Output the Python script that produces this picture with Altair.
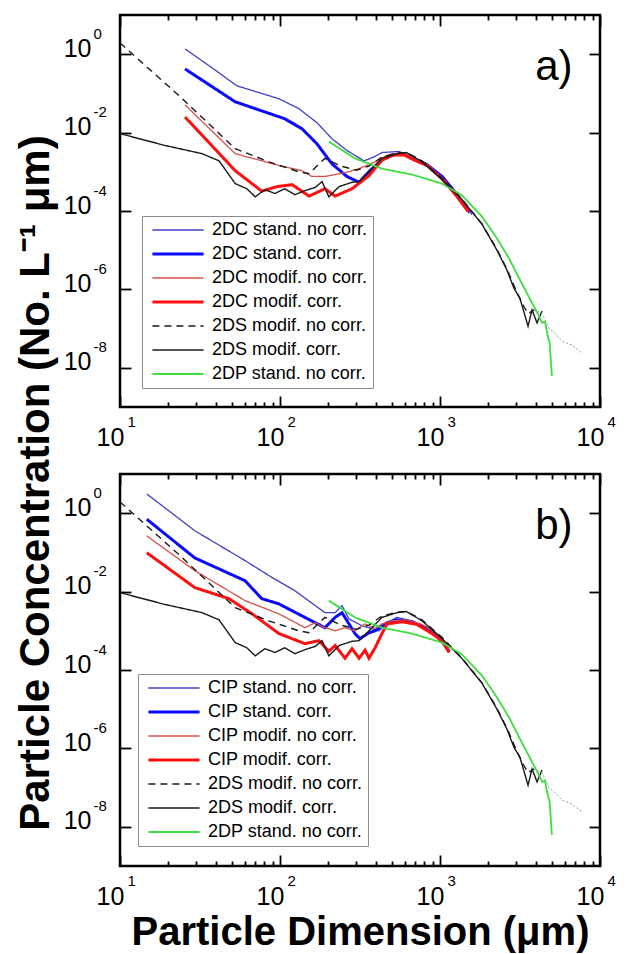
import altair as alt
import pandas as pd

# ---------------- data ----------------
# Panel a) 2DC probe
D_2DC_STD_NC = [25.5, 37.6, 53.8, 98.5, 131, 170, 211, 262, 335, 387, 434, 554, 668, 830, 1030, 1280, 1585]
N_2DC_STD_NC = [1.36, 0.45, 0.156, 0.073, 0.041, 0.018, 7.0e-3, 3.5e-3, 1.9e-3, 2.4e-3, 3.1e-3, 3.3e-3, 2.4e-3, 1.6e-3, 8.0e-4, 2.8e-4, 8.1e-5]
D_2DC_STD_C = [25.5, 52.5, 107, 137, 170, 211, 262, 312, 365, 434, 501, 579, 688, 830, 1030, 1280, 1540]
N_2DC_STD_C = [0.42, 0.061, 0.0226, 0.0126, 5.2e-3, 1.6e-3, 7.6e-4, 5.4e-4, 1.07e-3, 2.0e-3, 2.7e-3, 2.9e-3, 2.2e-3, 1.5e-3, 7.6e-4, 2.6e-4, 9.1e-5]
D_2DC_MOD_NC = [25.5, 52.5, 98.5, 137, 158, 191, 255, 312, 393, 466, 579, 688, 830, 1030, 1280, 1540]
N_2DC_MOD_NC = [0.051, 2.9e-3, 1.45e-3, 1.07e-3, 7.6e-4, 7.6e-4, 9.5e-4, 1.2e-3, 1.8e-3, 2.6e-3, 3.1e-3, 2.3e-3, 1.5e-3, 7.1e-4, 2.5e-4, 9.1e-5]
D_2DC_MOD_C = [25.5, 52.5, 77, 96, 119, 152, 191, 221, 282, 360, 434, 516, 596, 688, 830, 1030, 1280, 1500]
N_2DC_MOD_C = [0.025, 1.07e-3, 3.2e-4, 4.2e-4, 4.7e-4, 2.4e-4, 3.7e-4, 2.4e-4, 3.7e-4, 8.0e-4, 2.0e-3, 2.7e-3, 2.7e-3, 2.0e-3, 1.45e-3, 6.7e-4, 2.3e-4, 9.7e-5]

# Panel b) CIP probe
D_CIP_STD_NC = [14.7, 29.4, 60.4, 89, 124, 191, 221, 244, 270, 325, 416, 466, 538, 668, 830, 1030, 1140]
N_CIP_STD_NC = [3.1, 0.355, 0.062, 0.023, 0.0105, 2.9e-3, 2.9e-3, 4.4e-3, 2.0e-3, 1.35e-3, 1.0e-3, 1.6e-3, 2.2e-3, 1.8e-3, 1.2e-3, 5.6e-4, 3.2e-4]
D_CIP_STD_C = [14.7, 29.4, 60.4, 77, 98, 143, 191, 221, 244, 270, 294, 316, 360, 393, 466, 538, 668, 830, 1030, 1140]
N_CIP_STD_C = [0.70, 0.072, 0.019, 6.6e-3, 4.9e-3, 2.2e-3, 1.2e-3, 2.2e-3, 2.9e-3, 1.5e-3, 8.5e-4, 6.3e-4, 8.9e-4, 1.0e-3, 1.6e-3, 1.9e-3, 1.7e-3, 1.15e-3, 5.4e-4, 3.0e-4]
D_CIP_MOD_NC = [14.7, 29.4, 60.4, 98.5, 143, 166, 191, 221, 255, 294, 340, 393, 434, 501, 617, 772, 957, 1140]
N_CIP_MOD_NC = [0.264, 0.034, 5.9e-3, 2.7e-3, 1.2e-3, 1.6e-3, 1.2e-3, 1.0e-3, 1.2e-3, 1.0e-3, 1.5e-3, 1.15e-3, 1.5e-3, 1.8e-3, 1.9e-3, 1.45e-3, 8.5e-4, 3.5e-4]
D_CIP_MOD_C = [14.7, 29.4, 48, 67, 98.5, 143, 175, 202, 221, 255, 282, 312, 340, 360, 393, 434, 466, 579, 718, 891, 1030, 1140]
N_CIP_MOD_C = [0.098, 0.0126, 6.6e-3, 2.7e-3, 8.5e-4, 4.7e-4, 5.6e-4, 3.0e-4, 4.2e-4, 2.0e-4, 3.5e-4, 2.0e-4, 3.2e-4, 2.0e-4, 3.7e-4, 8.5e-4, 1.5e-3, 1.7e-3, 1.45e-3, 8.5e-4, 5.6e-4, 2.8e-4]

# Shared by both panels: 2DS and 2DP probes
D_2DS_NC = [10, 23.4, 52.5, 85, 131, 152, 175, 191, 240, 300, 360, 434, 538, 617, 772, 1030, 1372, 1830, 2270, 2620, 3020, 3350, 3550, 3870]
N_2DS_NC = [1.94, 0.087, 3.9e-3, 1.8e-3, 1.0e-3, 8.9e-4, 1.6e-3, 2.2e-3, 1.4e-3, 1.1e-3, 1.4e-3, 2.4e-3, 3.0e-3, 3.1e-3, 1.9e-3, 6.8e-4, 2.0e-4, 4.7e-5, 1.05e-5, 3.3e-6, 8.5e-7, 3.6e-7, 2.4e-7, 3.0e-7]
D_2DS_C = [10, 19.1, 32.6, 41.6, 52.5, 62, 70, 80.5, 93, 107, 124, 143, 166, 183, 202, 234, 282, 312, 360, 434, 538, 617, 772, 1030, 1372, 1830, 2270, 2620, 2900, 3160, 3350, 3550, 3760, 4040, 4340]
N_2DS_C = [9.4e-3, 4.7e-3, 2.9e-3, 1.9e-3, 5.0e-4, 3.7e-4, 2.3e-4, 3.5e-4, 2.8e-4, 3.7e-4, 2.6e-4, 3.3e-4, 4.0e-4, 5.6e-4, 2.3e-4, 4.2e-4, 5.4e-4, 5.6e-4, 1.0e-3, 2.2e-3, 2.9e-3, 3.1e-3, 1.8e-3, 6.3e-4, 1.96e-4, 4.6e-5, 1.0e-5, 3.1e-6, 1.07e-6, 5.9e-7, 2.6e-7, 1.15e-7, 3.0e-7, 1.4e-7, 2.8e-7]
D_2DP = [202, 294, 434, 668, 1030, 1372, 1830, 2270, 2700, 3250, 3760, 4160, 4340, 4530, 4700, 4850, 5000]
N_2DP = [5.9e-3, 2.2e-3, 1.2e-3, 8.5e-4, 5.0e-4, 2.5e-4, 7.2e-5, 2.0e-5, 6.2e-6, 1.4e-6, 4.5e-7, 2.1e-7, 1.4e-7, 1.5e-7, 7.0e-8, 4.3e-8, 6.2e-9]
# faint dotted tail at the largest sizes
D_TAIL = [3870, 4340, 4800, 5230, 5790, 6680, 7720]
N_TAIL = [3.0e-7, 2.45e-7, 1.0e-7, 7.6e-8, 4.8e-8, 3.8e-8, 2.4e-8]

NAMES_A = ["2DC stand. no corr.", "2DC stand. corr.", "2DC modif. no corr.", "2DC modif. corr.",
           "2DS modif. no corr.", "2DS modif. corr.", "2DP stand. no corr."]
NAMES_B = ["CIP stand. no corr.", "CIP stand. corr.", "CIP modif. no corr.", "CIP modif. corr.",
           "2DS modif. no corr.", "2DS modif. corr.", "2DP stand. no corr."]
SERIES_A = [(D_2DC_STD_NC, N_2DC_STD_NC), (D_2DC_STD_C, N_2DC_STD_C), (D_2DC_MOD_NC, N_2DC_MOD_NC),
            (D_2DC_MOD_C, N_2DC_MOD_C), (D_2DS_NC, N_2DS_NC), (D_2DS_C, N_2DS_C), (D_2DP, N_2DP)]
SERIES_B = [(D_CIP_STD_NC, N_CIP_STD_NC), (D_CIP_STD_C, N_CIP_STD_C), (D_CIP_MOD_NC, N_CIP_MOD_NC),
            (D_CIP_MOD_C, N_CIP_MOD_C), (D_2DS_NC, N_2DS_NC), (D_2DS_C, N_2DS_C), (D_2DP, N_2DP)]

COLORS = ["#4040c8", "#0a0aff", "#d8504a", "#ff1010", "#1a1a1a", "#1a1a1a", "#3ede3e"]
WIDTHS = [1.3, 3.0, 1.3, 3.0, 1.4, 1.4, 1.8]
DASHES = [[1, 0], [1, 0], [1, 0], [1, 0], [7, 5], [1, 0], [1, 0]]

X_TICKS = [10, 20, 30, 40, 50, 60, 70, 80, 90, 100, 200, 300, 400, 500, 600, 700, 800, 900,
           1000, 2000, 3000, 4000, 5000, 6000, 7000, 8000, 9000, 10000]
X_LABELS = [10, 100, 1000, 10000]
Y_LABELS = [1e-8, 1e-6, 1e-4, 1e-2, 1]
X_DOMAIN = [10, 10000]
Y_DOMAIN = [1e-9, 10]

TAG_D = 5150
TAG_N = 0.475

W, H = 480, 392
FONT = "Liberation Sans"

MAJOR_TEST = "indexof([10,100,1000,10000], datum.value) >= 0"
TICK_SIZE = {"condition": {"test": MAJOR_TEST, "value": 11}, "value": 5}
EXP_EXPR = "'' + round(log(datum.value) / LN10)"


def width_expr(names):
    expr = "1.3"
    for nm, w in zip(reversed(names), reversed(WIDTHS)):
        expr = f"datum.value == '{nm}' ? {w} : ({expr})"
    return expr


def panel(names, series, tag, legx, legy, xtitle):
    rows = []
    for i, (nm, (ds, ns)) in enumerate(zip(names, series)):
        for d, n in zip(ds, ns):
            rows.append({"series": nm, "D": d, "N": n, "sw": WIDTHS[i]})
    df = pd.DataFrame(rows)
    tail = pd.DataFrame({"D": D_TAIL, "N": N_TAIL})
    tagdf = pd.DataFrame({"D": [TAG_D], "N": [TAG_N], "t": [tag]})

    xs = alt.Scale(type="log", domain=X_DOMAIN, nice=False)
    ys = alt.Scale(type="log", domain=Y_DOMAIN, nice=False)

    leg = alt.Legend(
        title=None, orient="none", legendX=legx, legendY=legy,
        symbolType="M-3.2,0H3.2", symbolSize=256, symbolOffset=22, labelOffset=25,
        labelFont=FONT, labelFontSize=18, labelColor="black", labelLimit=400,
        padding=5, rowPadding=6, strokeColor="#8c8c8c", fillColor="white",
        symbolStrokeWidth={"expr": width_expr(names)},
    )

    ax_x_main = alt.Axis(orient="bottom", values=X_LABELS, labelExpr="'10'", ticks=False, tickSize=0,
                         domain=False, grid=False, labelFont=FONT, labelFontSize=25, labelColor="black",
                         labelPadding=18, labelOffset=-10, labelBaseline="top", labelFlush=False,
                         labelOverlap=False, title=xtitle, titleFont=FONT, titleFontSize=40,
                         titleFontWeight="bold", titleColor="black", titlePadding=3)
    ax_x_exp = alt.Axis(orient="bottom", values=X_LABELS, labelExpr=EXP_EXPR, ticks=False, tickSize=0,
                        domain=False, grid=False, labelFont=FONT, labelFontSize=15, labelColor="black",
                        labelPadding=7, labelOffset=7, labelAlign="left", labelBaseline="top",
                        labelFlush=False, labelOverlap=False, title=None)
    ax_x_in_bot = alt.Axis(orient="top", offset=-H, values=X_TICKS, labels=False, domain=False, grid=False,
                           tickSize=TICK_SIZE, tickWidth=1.8, tickColor="black", title=None)
    ax_x_in_top = alt.Axis(orient="bottom", offset=-H, values=X_TICKS, labels=False, domain=False, grid=False,
                           tickSize=TICK_SIZE, tickWidth=1.8, tickColor="black", title=None)

    ax_y_main = alt.Axis(orient="left", values=Y_LABELS, labelExpr="'10'", ticks=False, tickSize=0,
                         domain=False, grid=False, labelFont=FONT, labelFontSize=25, labelColor="black",
                         labelPadding=29, labelOffset=-6, labelAlign="right", labelBaseline="middle",
                         labelFlush=False, labelOverlap=False, title=None)
    ax_y_exp = alt.Axis(orient="left", values=Y_LABELS, labelExpr=EXP_EXPR, ticks=False, tickSize=0,
                        domain=False, grid=False, labelFont=FONT, labelFontSize=15, labelColor="black",
                        labelPadding=27, labelAlign="left", labelBaseline="middle", labelOffset=-21,
                        labelFlush=False, labelOverlap=False, title=None)
    ax_y_in_left = alt.Axis(orient="right", offset=-W, values=Y_LABELS, labels=False, domain=False,
                            grid=False, tickSize=11, tickWidth=1.8, tickColor="black", title=None)
    ax_y_in_right = alt.Axis(orient="left", offset=-W, values=Y_LABELS, labels=False, domain=False,
                             grid=False, tickSize=11, tickWidth=1.8, tickColor="black", title=None)

    lines = alt.Chart(df).mark_line(clip=True).encode(
        x=alt.X("D:Q", scale=xs, axis=ax_x_main),
        y=alt.Y("N:Q", scale=ys, axis=ax_y_main),
        color=alt.Color("series:N", scale=alt.Scale(domain=names, range=COLORS), legend=leg),
        strokeDash=alt.StrokeDash("series:N", scale=alt.Scale(domain=names, range=DASHES), legend=leg),
        strokeWidth=alt.StrokeWidth("sw:Q", scale=None),
    )
    tail_l = alt.Chart(tail).mark_line(color="#9a9a9a", strokeDash=[2, 2], strokeWidth=1, clip=True).encode(
        x=alt.X("D:Q", scale=xs, axis=ax_x_exp),
        y=alt.Y("N:Q", scale=ys, axis=ax_y_exp),
    )
    tag_l = alt.Chart(tagdf).mark_text(font=FONT, fontSize=42, color="black").encode(
        x=alt.X("D:Q", scale=xs, axis=ax_x_in_bot),
        y=alt.Y("N:Q", scale=ys, axis=ax_y_in_left),
        text="t:N",
    )
    ghost = alt.Chart(tagdf).mark_point(opacity=0).encode(
        x=alt.X("D:Q", scale=xs, axis=ax_x_in_top),
        y=alt.Y("N:Q", scale=ys, axis=ax_y_in_right),
    )
    return alt.layer(lines, tail_l, tag_l, ghost).resolve_axis(x="independent", y="independent").properties(
        width=W, height=H)


pa = panel(NAMES_A, SERIES_A, "a)", 22, 201, None)
pb = panel(NAMES_B, SERIES_B, "b)", 18, 200, "Particle Dimension (\u03bcm)")

chart = alt.vconcat(pa, pb, spacing=19).resolve_scale(
    color="independent", strokeDash="independent"
).resolve_legend(color="independent", strokeDash="independent").properties(
    title=alt.TitleParams(text="Particle Concentration (No. L\u207b\u00b9 \u03bcm)", orient="left",
                          anchor="middle", font=FONT, fontSize=42, fontWeight="bold", color="black",
                          offset=4),
    padding={"left": 6, "top": 4, "right": 4, "bottom": 0},
).configure_view(stroke="black", strokeWidth=2.5)

chart.save("out.html", embed_options={"renderer": "svg", "actions": False})
